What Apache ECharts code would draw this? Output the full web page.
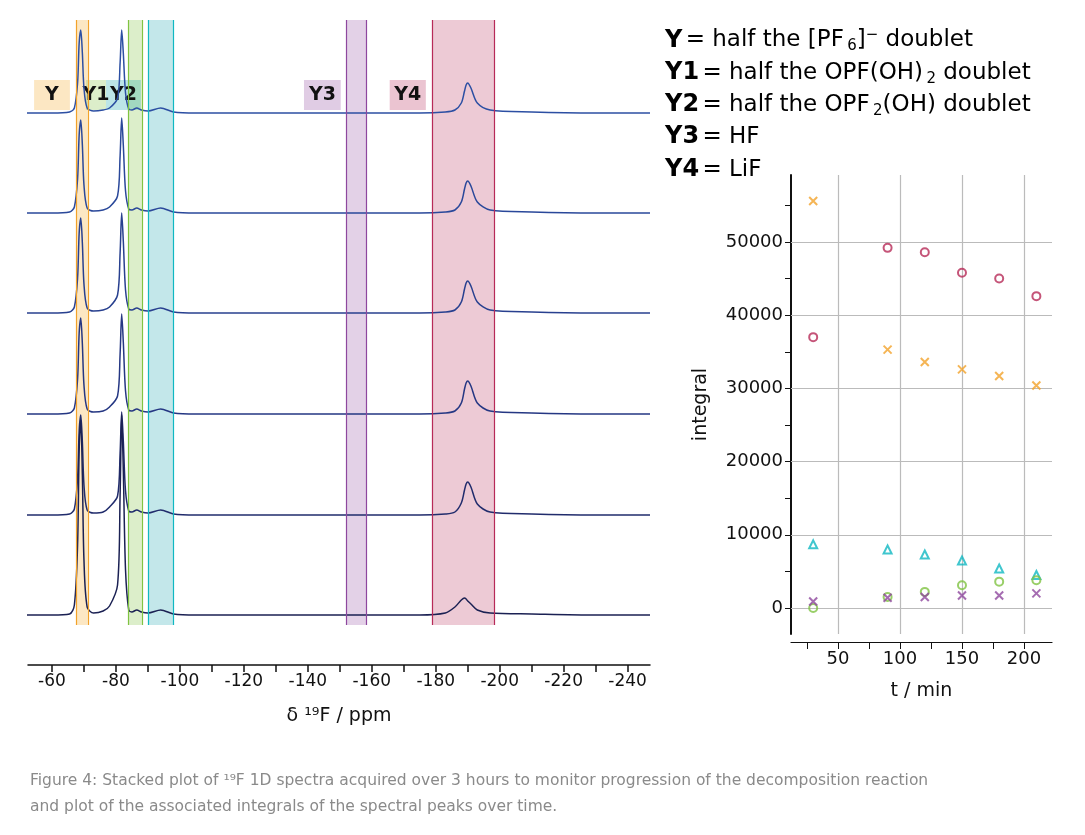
<!DOCTYPE html>
<html><head><meta charset="utf-8">
<script src="https://cdn.jsdelivr.net/npm/echarts@6/dist/echarts.min.js"></script>
<style>body{margin:0}#c{width:1085px;height:835px}</style></head>
<body><div id="c"></div>
<script>
// ---- spectra (ppm, peak heights above each baseline) ----
const ppm = [-52,-60,-65.5,-67,-68,-68.5,-69,-69.5,-70,-71,-73,-76,-78,-80.5,-81.3,-81.8,-82.3,-83,-84,-85,-86.5,-88,-90,-94,-98,-105,-120,-140,-160,-175,-183,-186,-188,-189,-189.5,-190,-191,-193,-197,-210,-230,-247];
const spec1 = [0,0,1,5,30,70,83,60,25,5,2,3,5,15,50,83,60,20,4,3,5,3,2,5,1,0,0,0,0,0,1,3,10,22,28,30,25,10,3,1,0,0];
const spec2 = [0,0,1,6,34,78,93,68,28,5,2,3,6,17,57,95,68,22,4,3,5,3,2,5,1,0,0,0,0,0,1,3,11,24,30,32,27,11,3,1,0,0];
const spec3 = [0,0,1,6,35,80,95,70,29,5,2,3,6,18,60,100,72,23,4,3,5,3,2,5,1,0,0,0,0,0,1,3,11,24,30,32,27,11,3,1,0,0];
const spec4 = [0,0,1,6,35,81,96,70,29,5,2,3,7,18,60,100,72,23,4,3,5,3,2,5,1,0,0,0,0,0,1,3,11,25,31,33,28,11,3,1,0,0];
const spec5 = [0,0,1,6,37,84,100,73,30,5,2,3,8,19,62,103,74,24,4,3,5,3,2,5,1,0,0,0,0,0,1,3,12,25,31,33,28,11,3,1,0,0];
const spec6 = [0,0,1,10,70,165,195,140,55,8,2,4,9,30,120,200,145,45,5,3,5,3,2,5,1,0,0,0,0,0,2,8,15,17,16,14,11,5,2,1,0,0];
const baselines = [552,452,352,251,150,50];
const specColors = ['#2c4fa3','#2a489a','#28408f','#253783','#212c6c','#1b2153'];
// ---- integrals ----
const tMin = [30,90,120,150,180,210];
const intY  = [55600,35300,33600,32600,31700,30400];
const intY1 = [0,1500,2200,3100,3600,3800];
const intY2 = [8700,8000,7300,6500,5400,4500];
const intY3 = [900,1400,1500,1700,1700,2000];
const intY4 = [37000,49200,48600,45800,45000,42600];
const xTicks = [-60,-80,-100,-120,-140,-160,-180,-200,-220,-240];
const tTicks = [50,100,150,200];
const yTicks = [0,10000,20000,30000,40000,50000];

const C = {Y:'#f2a22a',Y1:'#80c342',Y2:'#10b8c2',Y3:'#8e479e',Y4:'#b72a58'};
const F = 'DejaVu Sans';
const bands = [
  {k:'Y',  a:-67.5, b:-71.2, fill:'rgba(245,170,40,0.28)'},
  {k:'Y1', a:-83.8, b:-88.1, fill:'rgba(128,195,66,0.28)'},
  {k:'Y2', a:-90,   b:-98,   fill:'rgba(16,160,170,0.25)'},
  {k:'Y3', a:-152,  b:-158.3,fill:'rgba(142,71,158,0.25)'},
  {k:'Y4', a:-178.8,b:-198.4,fill:'rgba(183,42,88,0.25)'}
];
const boxes = [
  {t:'Y', a:-54.4,b:-65.6,fill:'rgba(245,170,40,0.28)'},
  {t:'Y1',a:-70.6,b:-76.9,fill:'rgba(128,195,66,0.28)'},
  {t:'Y2',a:-76.9,b:-87.8,fill:'rgba(16,160,170,0.28)'},
  {t:'Y3',a:-138.8,b:-150.3,fill:'rgba(142,71,158,0.28)'},
  {t:'Y4',a:-165.6,b:-176.9,fill:'rgba(183,42,88,0.28)'}
];
const specs = [spec1,spec2,spec3,spec4,spec5,spec6];
const series = [];
specs.forEach((s,i)=>series.push({type:'line',xAxisIndex:0,yAxisIndex:0,showSymbol:false,smooth:0.3,
  lineStyle:{color:specColors[i],width:1.5},z:3,data:ppm.map((p,j)=>[p,s[j]+baselines[i]])}));
series[0].markArea={silent:true,data:
    bands.map(b=>[{xAxis:b.a,yAxis:40,itemStyle:{color:b.fill}},{xAxis:b.b,yAxis:645}]).concat(
    boxes.map(b=>[{xAxis:b.a,yAxis:555,itemStyle:{color:b.fill},label:{show:true,position:'inside',formatter:b.t,color:'#111',fontSize:19,fontWeight:'bold',fontFamily:F}},{xAxis:b.b,yAxis:585}]))};
series[0].markLine={silent:true,symbol:'none',label:{show:false},data:
    bands.flatMap(b=>[[{coord:[b.a,40],lineStyle:{color:C[b.k],width:1.2,type:'solid'}},{coord:[b.a,645]}],[{coord:[b.b,40],lineStyle:{color:C[b.k],width:1.2,type:'solid'}},{coord:[b.b,645]}]])};
const cross='path://M0,0L10,10M10,0L0,10';
function sc(d,sym,col,size){return {type:'scatter',xAxisIndex:1,yAxisIndex:1,symbol:sym,symbolSize:size,z:5,
  itemStyle:{color:'rgba(0,0,0,0)',borderColor:col,borderWidth:2},data:tMin.map((t,i)=>[t,d[i]])};}
series.push(sc(intY,cross,C.Y,8),sc(intY4,'circle',C.Y4,8),sc(intY2,'triangle',C.Y2,8),sc(intY1,'circle',C.Y1,8),sc(intY3,cross,C.Y3,8));
const gl={color:'#bbb',width:1.2,type:'solid'};
series[series.length-1].markLine={silent:true,symbol:'none',label:{show:false},
  data:tTicks.map(t=>[{coord:[t,-3550],lineStyle:gl},{coord:[t,59150]}]).concat(
       yTicks.map(v=>[{coord:[12.1,v],lineStyle:gl},{coord:[222.6,v]}]))};

const rich={k:{fontSize:24,fontWeight:'bold',fontFamily:F},t:{fontSize:23,fontFamily:F,color:'#111'},sub:{fontSize:15,fontFamily:F,color:'#111',padding:[12,0,0,0]},sup:{fontSize:15,fontFamily:F,color:'#111',padding:[0,0,10,0]}};
const gtexts=[
 {t:'{k|Y} {t|= half the [PF} {sub|6}{t|]}{sup|−}{t| doublet}',c:C.Y,y:28},
 {t:'{k|Y1} {t|= half the OPF(OH)} {sub|2}{t| doublet}',c:C.Y1,y:61},
 {t:'{k|Y2} {t|= half the OPF} {sub|2}{t|(OH) doublet}',c:C.Y2,y:93},
 {t:'{k|Y3} {t|= HF}',c:C.Y3,y:125},
 {t:'{k|Y4} {t|= LiF}',c:C.Y4,y:158}];
const chart=echarts.init(document.getElementById('c'));
chart.setOption({
 backgroundColor:'#fff',animation:false,
 grid:[{left:28,right:435,top:20,bottom:170},{left:791,width:261,top:175,bottom:201}],
 xAxis:[
  {type:'value',gridIndex:0,min:-247,max:-52.5,inverse:true,splitLine:{show:false},
   axisLine:{lineStyle:{color:'#111',width:1.5}},
   axisTick:{length:7,lineStyle:{color:'#111',width:1.5},customValues:[-60,-70,-80,-90,-100,-110,-120,-130,-140,-150,-160,-170,-180,-190,-200,-210,-220,-230,-240]},
   axisLabel:{fontSize:17,color:'#111',fontFamily:F,customValues:xTicks},
   name:'δ ¹⁹F / ppm',nameLocation:'middle',nameGap:42,nameTextStyle:{fontSize:19,color:'#111',fontFamily:F}},
  {type:'value',gridIndex:1,min:12.1,max:222.6,offset:8,splitLine:{show:false},
   axisLine:{onZero:false,lineStyle:{color:'#111',width:1.2}},
   axisTick:{length:7,lineStyle:{color:'#111'},customValues:[25,50,75,100,125,150,175,200]},
   axisLabel:{fontSize:18,color:'#111',fontFamily:F,customValues:tTicks},
   name:'t / min',nameLocation:'middle',nameGap:40,nameTextStyle:{fontSize:19,color:'#111',fontFamily:F}}],
 yAxis:[
  {type:'value',gridIndex:0,min:0,max:645,show:false},
  {type:'value',gridIndex:1,min:-3550,max:59150,splitLine:{show:false},
   axisLine:{show:true,lineStyle:{color:'#111',width:2}},
   axisTick:{show:true,length:6,lineStyle:{color:'#111'},customValues:[0,5000,10000,15000,20000,25000,30000,35000,40000,45000,50000,55000]},
   axisLabel:{fontSize:18,color:'#111',fontFamily:F,customValues:yTicks,formatter:v=>String(v)},
   name:'integral',nameLocation:'middle',nameGap:80,nameRotate:90,nameTextStyle:{fontSize:19,color:'#111',fontFamily:F}}],
 series,
 graphic:gtexts.map(g=>({type:'text',left:665,top:g.y,style:{text:g.t,rich:Object.assign({},rich,{k:Object.assign({},rich.k,{color:g.c})})}})).concat([
  {type:'text',left:30,top:768,style:{text:'Figure 4: Stacked plot of ¹⁹F 1D spectra acquired over 3 hours to monitor progression of the decomposition reaction\nand plot of the associated integrals of the spectral peaks over time.',fill:'#8a8a8a',fontSize:15.5,lineHeight:26,fontFamily:F}}])
});
</script></body></html>
